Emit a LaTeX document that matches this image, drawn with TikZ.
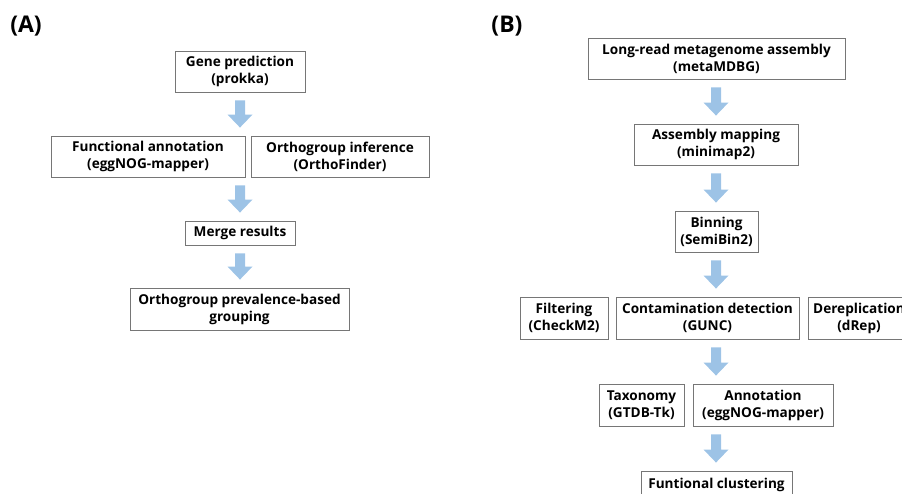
\documentclass[tikz,border=0pt]{standalone}
\usepackage{fontspec}
\setmainfont{Open Sans}
\usetikzlibrary{calc}

\definecolor{flowblue}{RGB}{157,195,230}
\definecolor{boxgray}{RGB}{118,118,118}

\tikzset{
  stepbox/.style={draw=boxgray, line width=0.9pt, align=center, inner sep=0pt,
    minimum height=41pt, font=\bfseries\fontsize{13.6}{17}\selectfont},
  panel/.style={font=\bfseries\fontsize{23}{26}\selectfont}
}

% block arrow: column, from node, to node
\newcommand{\flowarrow}[3]{%
  \coordinate (fa-top) at ($(#1 |- #2.south)+(0pt,-8pt)$);
  \coordinate (fa-tip) at ($(#1 |- #3.north)+(0pt,8pt)$);
  \fill [flowblue] ($(fa-top)+(-5pt,0pt)$) -- ($(fa-top)+(5pt,0pt)$)
    -- ($(fa-tip)+(5pt,13pt)$) -- ($(fa-tip)+(12.5pt,13pt)$) -- (fa-tip)
    -- ($(fa-tip)+(-12.5pt,13pt)$) -- ($(fa-tip)+(-5pt,13pt)$) -- cycle;}

\begin{document}
\begin{tikzpicture}[x=1pt, y=-1pt]
    \useasboundingbox (0,0) rectangle (902,493);
    \clip (0,0) rectangle (902,493);

    % (A)
    \node [panel] (labelA) at (26,26) {(A)};
    \coordinate (colA) at (240,0);
    \node [stepbox, minimum width=130pt] (gene) at (240,71.5) {Gene prediction\\(prokka)};
    \node [stepbox, minimum width=194pt] (func) at (148,156.5) {Functional annotation\\(eggNOG-mapper)};
    \node [stepbox, minimum width=178pt] (ortho) at (340,156.5) {Orthogroup inference\\(OrthoFinder)};
    \node [stepbox, minimum width=110pt, minimum height=24pt] (merge) at (240,233) {Merge results};
    \node [stepbox, minimum width=219pt, minimum height=42pt] (prev) at (239.5,309) {Orthogroup prevalence-based\\grouping};
    \flowarrow{colA}{gene}{func}
    \flowarrow{colA}{func}{merge}
    \flowarrow{colA}{merge}{prev}

    % (B)
    \node [panel] (labelB) at (507,26) {(B)};
    \coordinate (colB) at (716,0);
    \node [stepbox, minimum width=257pt] (asm) at (716.5,58.5) {Long-read metagenome assembly\\(metaMDBG)};
    \node [stepbox, minimum width=164pt] (mapping) at (716,144.5) {Assembly mapping\\(minimap2)};
    \node [stepbox, minimum width=83pt] (binning) at (716.5,231.5) {Binning\\(SemiBin2)};
    \node [stepbox, minimum width=88pt, minimum height=42pt] (filter) at (564,318) {Filtering\\(CheckM2)};
    \node [stepbox, minimum width=183pt, minimum height=42pt] (contam) at (707.5,318) {Contamination detection\\(GUNC)};
    \node [stepbox, minimum width=102pt, minimum height=42pt] (derep) at (859,318) {Dereplication\\(dRep)};
    \node [stepbox, minimum width=85pt, minimum height=42pt] (taxon) at (641.5,405) {Taxonomy\\(GTDB-Tk)};
    \node [stepbox, minimum width=140pt, minimum height=42pt] (annot) at (763,405) {Annotation\\(eggNOG-mapper)};
    \node [stepbox, minimum width=151pt] (cluster) at (716.5,491.5) {Funtional clustering\\\mbox{}};
    \flowarrow{colB}{asm}{mapping}
    \flowarrow{colB}{mapping}{binning}
    \flowarrow{colB}{binning}{contam}
    \flowarrow{colB}{contam}{taxon}
    \flowarrow{colB}{annot}{cluster}
\end{tikzpicture}
\end{document}
